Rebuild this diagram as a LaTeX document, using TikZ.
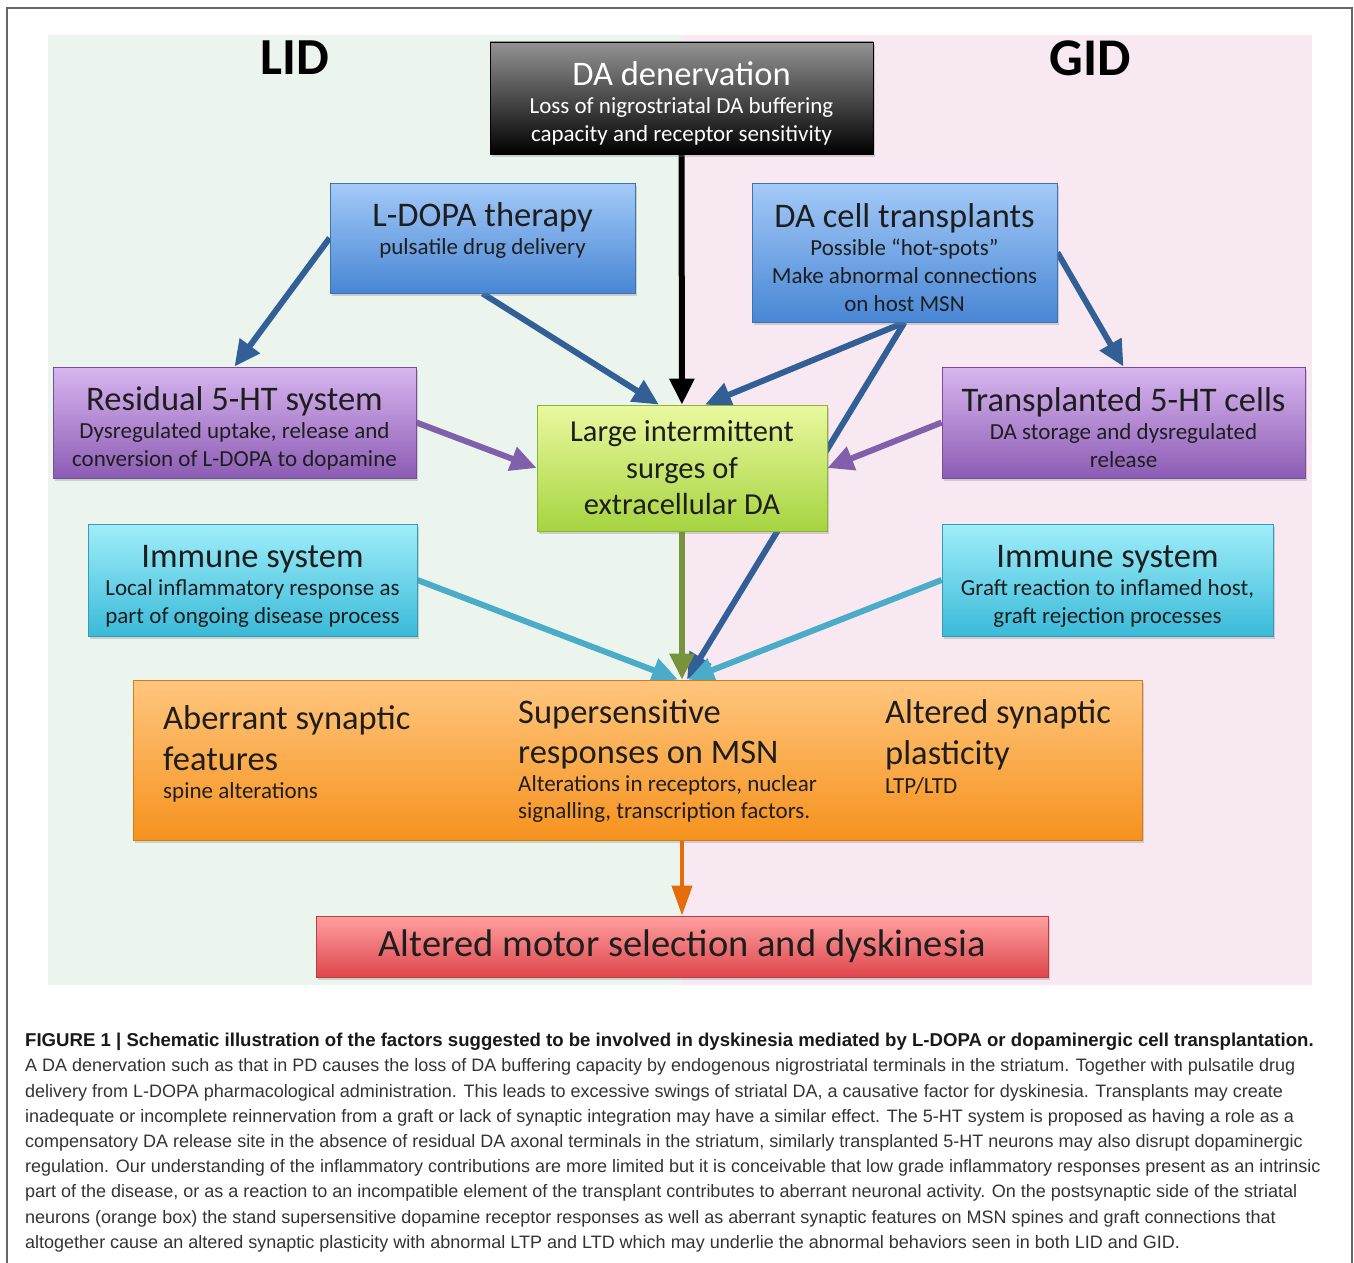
\documentclass[tikz,border=0pt]{standalone}
\usepackage{fontspec}
\setmainfont{Carlito}
\newfontfamily\capfont{Liberation Sans}
\usepackage{tikz}
\usepackage{xcolor}
\usetikzlibrary{arrows.meta,positioning,calc,shadows}
\definecolor{LidBg}{RGB}{235,245,238}
\definecolor{GidBg}{RGB}{248,232,242}
\definecolor{BlueTop}{RGB}{164,202,248}
\definecolor{BlueBot}{RGB}{72,134,212}
\definecolor{PurpTop}{RGB}{216,182,240}
\definecolor{PurpBot}{RGB}{140,92,180}
\definecolor{LimeTop}{RGB}{234,249,160}
\definecolor{LimeBot}{RGB}{166,212,64}
\definecolor{CyanTop}{RGB}{160,238,250}
\definecolor{CyanBot}{RGB}{58,186,216}
\definecolor{OrTop}{RGB}{255,198,126}
\definecolor{OrBot}{RGB}{246,146,30}
\definecolor{RedTop}{RGB}{255,160,160}
\definecolor{RedBot}{RGB}{222,70,76}
\definecolor{ArrBlue}{RGB}{50,96,150}
\definecolor{ArrPurp}{RGB}{128,96,170}
\definecolor{ArrCyan}{RGB}{74,172,198}
\definecolor{ArrOlive}{RGB}{119,147,60}
\definecolor{ArrOrange}{RGB}{228,108,10}
\definecolor{TextDark}{RGB}{30,30,30}
\definecolor{CapText}{RGB}{51,51,51}
\pgfdeclarelayer{panels}
\pgfdeclarelayer{links}
\pgfsetlayers{panels,links,main}
\newcommand{\btitle}[1]{{\fontsize{34.5}{34.5}\selectfont\rule{0pt}{35pt}#1}}
\newcommand{\ctitle}[1]{{\fontsize{34.5}{34.5}\selectfont #1}}

\begin{document}
\begin{tikzpicture}[x=1pt, y=-1pt,
  box/.style={align=center, inner sep=0pt, text=TextDark, line width=0.8pt,
    font=\fontsize{23}{28}\selectfont,
    drop shadow={shadow xshift=2pt, shadow yshift=-3pt, opacity=0.3}},
  darkbox/.style={box, top color=black!42, bottom color=black, draw=black, text=white},
  bluebox/.style={box, top color=BlueTop, bottom color=BlueBot, draw=BlueBot!85!black},
  purpbox/.style={box, top color=PurpTop, bottom color=PurpBot, draw=PurpBot!85!black},
  limebox/.style={box, top color=LimeTop, bottom color=LimeBot, draw=LimeBot!85!black},
  cyanbox/.style={box, top color=CyanTop, bottom color=CyanBot, draw=CyanBot!85!black},
  orbox/.style={box, top color=OrTop, bottom color=OrBot, draw=OrBot!85!black},
  redbox/.style={box, top color=RedTop, bottom color=RedBot, draw=RedBot!85!black},
  coltext/.style={anchor=north west, align=left, inner sep=0pt, text=TextDark,
    font=\fontsize{23}{27}\selectfont},
  link/.style={line width=6pt, -{Triangle[length=26pt,width=24pt]}}]
\useasboundingbox (0,0) rectangle (1354,1263);
\draw[black!60, line width=1.2pt] (7,1263) -- (7,8) -- (1352,8) -- (1352,1263);

% the two halves
\begin{pgfonlayer}{panels}
\fill[LidBg] (48,35) rectangle (681,985);
\fill[GidBg] (681,35) rectangle (1312,985);
\end{pgfonlayer}
\node[font=\fontsize{52}{52}\selectfont\bfseries] (lidlbl) at (295,58) {LID};
\node[font=\fontsize{53}{53}\selectfont\bfseries] (gidlbl) at (1090,58) {GID};

\node[darkbox, minimum width=383pt, minimum height=112pt] (denerv) at (681.5,98) {\btitle{DA denervation}\\Loss of nigrostriatal DA buffering\\capacity and receptor sensitivity};
\node[bluebox, minimum width=305pt, minimum height=110pt] (ldopa) at (482.5,238) {\btitle{L-DOPA therapy}\\pulsatile drug delivery\rule[-31pt]{0pt}{0pt}};
\node[bluebox, minimum width=305pt, minimum height=139pt] (dacell) at (904.5,252.5) {\btitle{DA cell transplants}\\Possible “hot-spots”\\Make abnormal connections\\on host MSN};
\node[purpbox, minimum width=363pt, minimum height=111pt] (resid) at (234.5,422.5) {\btitle{Residual 5-HT system}\\Dysregulated uptake, release and\\conversion of L-DOPA to dopamine};
\node[purpbox, minimum width=363pt, minimum height=111pt] (trans) at (1123.5,422.5) {\btitle{Transplanted 5-HT cells}\\DA storage and dysregulated\\release};
\node[limebox, minimum width=290pt, minimum height=126pt, font=\fontsize{30.5}{36.5}\selectfont] (surge) at (682,468) {Large intermittent\\surges of\\extracellular DA};
\node[cyanbox, minimum width=329pt, minimum height=112pt] (imml) at (252.5,580) {\btitle{Immune system}\\Local inflammatory response as\\part of ongoing disease process};
\node[cyanbox, minimum width=331pt, minimum height=112pt] (immr) at (1107.5,580) {\btitle{Immune system}\\Graft reaction to inflamed host,\\graft rejection processes};

\node[orbox, minimum width=1009pt, minimum height=160pt] (msn) at (637.5,760) {};
\node[coltext] (aberr) at (163,705) {\ctitle{Aberrant synaptic}\\[11pt]\ctitle{features}\\[1.6pt]spine alterations};
\node[coltext] (supers) at (518,699) {\ctitle{Supersensitive}\\[11pt]\ctitle{responses on MSN}\\[1.6pt]Alterations in receptors, nuclear\\signalling, transcription factors.};
\node[coltext] (plast) at (885,699) {\ctitle{Altered synaptic}\\[11pt]\ctitle{plasticity}\\[1.6pt]LTP/LTD};

\node[redbox, minimum width=732pt, minimum height=61pt, font=\fontsize{38.5}{38.5}\selectfont] (motor) at (682,946.5) {Altered motor selection and dyskinesia};
\coordinate (msntop) at (msn.north -| surge.south);

\begin{pgfonlayer}{links}
\draw[link, black] (denerv) -- (surge);
\draw[link, ArrBlue] (ldopa.west) -- (resid.north);
\draw[link, ArrBlue] (ldopa.south) -- (surge.110);
\draw[link, ArrBlue] (dacell.south) -- (surge.70);
\draw[link, ArrBlue] (dacell.east) -- (trans.north);
\draw[link, ArrBlue] (dacell.south) -- ($(msntop)+(5,0)$);
\draw[link, ArrPurp] (resid.east) -- (surge.west);
\draw[link, ArrPurp] (trans.west) -- (surge.east);
\draw[link, ArrCyan] (imml.east) -- ($(msntop)+(-4,0)$);
\draw[link, ArrCyan] (immr.west) -- ($(msntop)+(6,0)$);
\draw[link, ArrOlive] (surge) -- (msntop);
\draw[link, ArrOrange, line width=4pt, -{Triangle[length=30pt,width=20pt]}] (msn.south -| motor.north) -- (motor);
\end{pgfonlayer}

\node[anchor=north west, align=left, inner sep=0pt, text=CapText,
  font=\capfont\fontsize{18}{25.2}\selectfont] (caption) at (25,1033)
  {{\color{black!90}\fontsize{18.6}{25.2}\selectfont\bfseries FIGURE 1 | Schematic illustration of the factors suggested to be involved in dyskinesia mediated by L-DOPA or dopaminergic cell transplantation.}\\
A DA denervation such as that in PD causes the loss of DA buffering capacity by endogenous nigrostriatal terminals in the striatum. Together with pulsatile drug\\
delivery from L-DOPA pharmacological administration. This leads to excessive swings of striatal DA, a causative factor for dyskinesia. Transplants may create\\
inadequate or incomplete reinnervation from a graft or lack of synaptic integration may have a similar effect. The 5-HT system is proposed as having a role as a\\
compensatory DA release site in the absence of residual DA axonal terminals in the striatum, similarly transplanted 5-HT neurons may also disrupt dopaminergic\\
regulation. Our understanding of the inflammatory contributions are more limited but it is conceivable that low grade inflammatory responses present as an intrinsic\\
part of the disease, or as a reaction to an incompatible element of the transplant contributes to aberrant neuronal activity. On the postsynaptic side of the striatal\\
neurons (orange box) the stand supersensitive dopamine receptor responses as well as aberrant synaptic features on MSN spines and graft connections that\\
altogether cause an altered synaptic plasticity with abnormal LTP and LTD which may underlie the abnormal behaviors seen in both LID and GID.};
\end{tikzpicture}
\end{document}
